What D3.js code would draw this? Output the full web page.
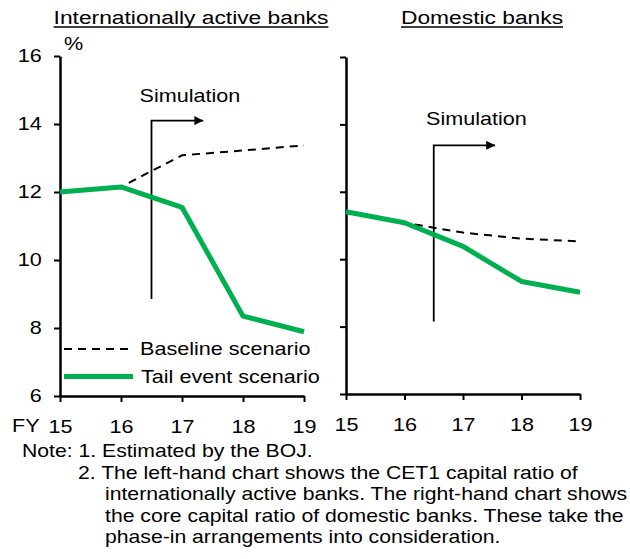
<!DOCTYPE html>
<html><head><meta charset="utf-8">
<script src="https://cdn.jsdelivr.net/npm/d3@7"></script>
<style>
html,body{margin:0;padding:0;background:#fff;}
svg{display:block;font-family:Arial,"Liberation Sans",sans-serif;}
</style></head>
<body>
<svg id="chart" width="630" height="559"></svg>
<script>
// ---- data ----
const years = [15, 16, 17, 18, 19];
const yTicks = [6, 8, 10, 12, 14, 16];
const intlBaseline = [12.0, 12.15, 13.08, 13.22, 13.37];
const intlTail = [12.0, 12.15, 11.55, 8.35, 7.89];
const domBaseline = [11.41, 11.08, 10.79, 10.61, 10.53];
const domTail = [11.41, 11.08, 10.38, 9.34, 9.02];
const panelTitles = ["Internationally active banks", "Domestic banks"];
const legendLabels = ["Baseline scenario", "Tail event scenario"];
const noteLines = [
  "Note: 1. Estimated by the BOJ.",
  "2. The left-hand chart shows the CET1 capital ratio of",
  "internationally active banks. The right-hand chart shows",
  "the core capital ratio of domestic banks. These take the",
  "phase-in arrangements into consideration."
];

const GREEN = "#00B050";
const SX = 1.2; // horizontal stretch of the original text
const svg = d3.select("#chart");

function txt(g, x, y, s, size, anchor, sx) {
  return g.append("text")
    .attr("transform", `translate(${x},${y}) scale(${sx || SX},1)`)
    .attr("text-anchor", anchor || "start")
    .attr("font-size", size)
    .attr("fill", "#000")
    .text(s);
}

const panels = [
  {x0: 60, x1: 304, yTop: 56, yBot: 396, base: intlBaseline, tail: intlTail, labels: true,
   title: panelTitles[0], titleX: 191,
   sim: {x: 16.5, y0: 8.85, y1: 14.1, xEnd: 17.35, lx: 17.13, ly: 14.65}},
  {x0: 346, x1: 580, yTop: 57, yBot: 394, base: domBaseline, tail: domTail, labels: false,
   title: panelTitles[1], titleX: 482,
   sim: {x: 16.5, y0: 8.15, y1: 13.38, xEnd: 17.55, lx: 17.23, ly: 13.97}}
];

svg.append("defs").append("marker")
  .attr("id", "arr").attr("viewBox", "0 0 10 10").attr("refX", 10).attr("refY", 5)
  .attr("markerWidth", 5).attr("markerHeight", 5).attr("markerUnits", "strokeWidth")
  .attr("orient", "auto")
  .append("path").attr("d", "M0,0L10,5L0,10Z").attr("fill", "#000");

panels.forEach((p, i) => {
  const x = d3.scaleLinear().domain([15, 19]).range([p.x0, p.x1]);
  const y = d3.scaleLinear().domain([6, 16]).range([p.yBot, p.yTop]);
  const g = svg.append("g");

  // y axis
  const ya = d3.axisLeft(y).tickValues(yTicks).tickSize(6).tickSizeOuter(0)
    .tickPadding(9.3).tickFormat(p.labels ? d3.format("d") : "");
  const yg = g.append("g").attr("transform", `translate(${p.x0},0)`).call(ya);
  yg.select(".domain").attr("stroke", "#000").attr("stroke-width", 2.5);
  yg.selectAll(".tick line").attr("stroke", "#000").attr("stroke-width", 2);
  yg.selectAll(".tick text").attr("font-size", 18).attr("fill", "#000")
    .attr("font-family", "Arial,'Liberation Sans',sans-serif")
    .attr("transform", `scale(${SX},1)`);

  // x axis
  const xa = d3.axisBottom(x).tickValues(years).tickSize(6).tickSizeOuter(0)
    .tickPadding(18).tickFormat(d3.format("d"));
  const xg = g.append("g").attr("transform", `translate(0,${p.yBot})`).call(xa);
  xg.select(".domain").attr("stroke", "#000").attr("stroke-width", 2.5);
  xg.selectAll(".tick line").attr("stroke", "#000").attr("stroke-width", 2);
  xg.selectAll(".tick text").attr("font-size", 18).attr("fill", "#000")
    .attr("font-family", "Arial,'Liberation Sans',sans-serif")
    .attr("transform", `scale(${SX},1)`);

  // simulation arrow
  const s = p.sim;
  g.append("path")
    .attr("d", `M${x(s.x)},${y(s.y0)}V${y(s.y1)}H${x(s.xEnd)}`)
    .attr("fill", "none").attr("stroke", "#000").attr("stroke-width", 1.8)
    .attr("marker-end", "url(#arr)");
  txt(g, x(s.lx), y(s.ly), "Simulation", 18, "middle");

  // lines
  const line = d3.line().x((d, j) => x(years[j])).y(d => y(d));
  g.append("path").datum(p.base).attr("d", line).attr("fill", "none")
    .attr("stroke", "#000").attr("stroke-width", 2).attr("stroke-dasharray", "8,6");
  g.append("path").datum(p.tail).attr("d", line).attr("fill", "none")
    .attr("stroke", GREEN).attr("stroke-width", 5).attr("stroke-linejoin", "round");

  // title with underline
  const t = txt(svg, p.titleX, 24, p.title, 19, "middle");
  const w = t.node().getComputedTextLength() * SX;
  svg.append("line").attr("x1", p.titleX - w / 2).attr("x2", p.titleX + w / 2)
    .attr("y1", 27).attr("y2", 27).attr("stroke", "#000").attr("stroke-width", 1.5);

  if (i === 0) {
    txt(svg, 64, 50, "%", 18, "start");
    txt(svg, 12, 432, "FY", 18, "start");
    // legend
    svg.append("line").attr("x1", 64).attr("x2", 128).attr("y1", 349).attr("y2", 349)
      .attr("stroke", "#000").attr("stroke-width", 2).attr("stroke-dasharray", "8,6");
    txt(svg, 140, 355, legendLabels[0], 18, "start");
    svg.append("line").attr("x1", 64).attr("x2", 133).attr("y1", 376.5).attr("y2", 376.5)
      .attr("stroke", GREEN).attr("stroke-width", 5);
    txt(svg, 141, 383, legendLabels[1], 18, "start");
  }
});

// notes
const noteX = [22, 78, 105, 105, 105];
const noteY = [457, 478.5, 500, 521.5, 543];
noteLines.forEach((l, i) => txt(svg, noteX[i], noteY[i], l, 18.5, "start", 1.145));
</script>
</body></html>
